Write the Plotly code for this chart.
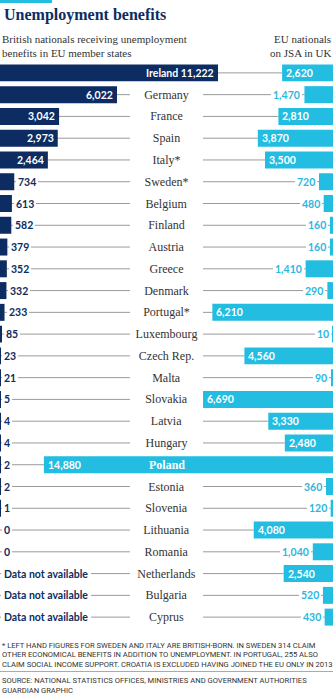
import plotly.graph_objects as go

countries = ["Ireland", "Germany", "France", "Spain", "Italy*", "Sweden*", "Belgium",
             "Finland", "Austria", "Greece", "Denmark", "Portugal*", "Luxembourg",
             "Czech Rep.", "Malta", "Slovakia", "Latvia", "Hungary", "Poland", "Estonia",
             "Slovenia", "Lithuania", "Romania", "Netherlands", "Bulgaria", "Cyprus"]
british_abroad = [11222, 6022, 3042, 2973, 2464, 734, 613, 582, 379, 352, 332, 233, 85,
                  23, 21, 5, 4, 4, 2, 2, 1, 0, 0, None, None, None]
eu_in_uk = [2620, 1470, 2810, 3870, 3500, 720, 480, 160, 160, 1410, 290, 6210, 10,
            4560, 90, 6690, 3330, 2480, 14880, 360, 120, 4080, 1040, 2540, 520, 430]

title = "Unemployment benefits"
left_sub = ["British nationals receiving unemployment", "benefits in EU member states"]
right_sub = ["EU nationals", "on JSA in UK"]
notes = ["* LEFT HAND FIGURES FOR SWEDEN AND ITALY ARE BRITISH-BORN. IN SWEDEN 314 CLAIM",
         "OTHER ECONOMICAL BENEFITS IN ADDITION TO UNEMPLOYMENT. IN PORTUGAL, 255 ALSO",
         "CLAIM SOCIAL INCOME SUPPORT. CROATIA IS EXCLUDED HAVING JOINED THE EU ONLY IN 2013"]
source = ["SOURCE: NATIONAL STATISTICS OFFICES, MINISTRIES AND GOVERNMENT AUTHORITIES",
          "GUARDIAN GRAPHIC"]

W, H = 333, 700
MT, MB = 62, 72
PH = H - MT - MB
R = 17140  # full width of the plot in data units (shared scale)

NAVY = "#0c2c62"
CYAN = "#22bde0"
CYAN_TXT = "#2bb8e0"
GREY = "#9a9a9a"
DARK = "#333333"
NUM_FONT = "Lato"
NUM_SIZE = 10.5
SERIF = "Liberation Serif"
NOTE_FONT = "Roboto"

def px2x(p):
    return p / W * R

def ypaper(ypx):
    return (H - MB - ypx) / PH

def fmt(v):
    return f"{v:,}"

fig = go.Figure()
fig.add_bar(y=countries, x=[v if v is not None else 0 for v in british_abroad],
            orientation="h", marker=dict(color=NAVY, line=dict(width=0)),
            hoverinfo="skip", showlegend=False)
fig.add_bar(y=countries, x=eu_in_uk, base=[R - v for v in eu_in_uk],
            orientation="h", marker=dict(color=CYAN, line=dict(width=0)),
            hoverinfo="skip", showlegend=False)

shapes = []
ann = []
for c, lv, rv in zip(countries, british_abroad, eu_in_uk):
    lval = lv if lv is not None else 0
    shapes.append(dict(type="line", xref="x", yref="y", x0=lval, x1=R - rv, y0=c, y1=c,
                       line=dict(color=GREY, width=1), layer="below"))
    name_in_left = lval > px2x(130)
    name_in_right = (R - rv) < px2x(130)
    # left label
    if lv is None:
        ann.append(dict(x=0, y=c, xref="x", yref="y", text="Data not available",
                        xanchor="left", xshift=1, showarrow=False, bgcolor="white",
                        borderpad=3, borderwidth=0,
                        font=dict(family=NUM_FONT, size=NUM_SIZE, color=NAVY, weight="bold")))
    elif lv >= 2000:
        txt = (c + " " if name_in_left else "") + fmt(lv)
        ann.append(dict(x=lv, y=c, xref="x", yref="y", text=txt, xanchor="right",
                        xshift=-3, showarrow=False, borderpad=1, borderwidth=0,
                        font=dict(family=NUM_FONT, size=NUM_SIZE, color="white", weight="bold")))
    else:
        ann.append(dict(x=lv, y=c, xref="x", yref="y", text=fmt(lv), xanchor="left",
                        xshift=2, showarrow=False, bgcolor="white", borderpad=2,
                        borderwidth=0,
                        font=dict(family=NUM_FONT, size=NUM_SIZE, color=NAVY, weight="bold")))
    # right label
    if rv >= 2000:
        ann.append(dict(x=R - rv, y=c, xref="x", yref="y", text=fmt(rv), xanchor="left",
                        xshift=3, showarrow=False, borderpad=1, borderwidth=0,
                        font=dict(family=NUM_FONT, size=NUM_SIZE, color="white", weight="bold")))
    else:
        ann.append(dict(x=R - rv, y=c, xref="x", yref="y", text=fmt(rv), xanchor="right",
                        xshift=-2, showarrow=False, bgcolor="white", borderpad=2,
                        borderwidth=0,
                        font=dict(family=NUM_FONT, size=NUM_SIZE, color=CYAN_TXT, weight="bold")))
    # centre country name
    if name_in_left:
        pass
    elif name_in_right:
        ann.append(dict(x=R / 2, y=c, xref="x", yref="y", text=c, xanchor="center",
                        showarrow=False, borderwidth=0,
                        font=dict(family=SERIF, size=12, color="white", weight="bold")))
    else:
        ann.append(dict(x=R / 2, y=c, xref="x", yref="y", text=c, xanchor="center",
                        showarrow=False, bgcolor="white", width=73, borderpad=0,
                        borderwidth=0,
                        font=dict(family=SERIF, size=12, color=DARK)))

# header
ann.append(dict(x=2 / W, y=ypaper(15), xref="paper", yref="paper", text=title,
                xanchor="left", yanchor="middle", showarrow=False,
                font=dict(family=SERIF, size=16, color=NAVY, weight="bold")))
for i, t in enumerate(left_sub):
    ann.append(dict(x=1 / W, y=ypaper(39 + 13.5 * i), xref="paper", yref="paper", text=t,
                    xanchor="left", yanchor="middle", showarrow=False, borderpad=0,
                    font=dict(family=SERIF, size=11, color=DARK)))
for i, t in enumerate(right_sub):
    ann.append(dict(x=1, y=ypaper(39 + 13.5 * i), xref="paper", yref="paper", text=t,
                    xanchor="right", xshift=-1, yanchor="middle", showarrow=False,
                    borderpad=0, font=dict(family=SERIF, size=11, color=DARK)))
for i, t in enumerate(notes):
    ann.append(dict(x=1 / W, y=ypaper(645 + 9.7 * i), xref="paper", yref="paper", text=t,
                    xanchor="left", yanchor="middle", showarrow=False, borderpad=0,
                    font=dict(family=NOTE_FONT, size=7.6, color=DARK)))
for i, t in enumerate(source):
    ann.append(dict(x=1 / W, y=ypaper(680 + 10.5 * i), xref="paper", yref="paper", text=t,
                    xanchor="left", yanchor="middle", showarrow=False, borderpad=0,
                    font=dict(family=NOTE_FONT, size=7.6, color=DARK)))

shapes.append(dict(type="rect", xref="paper", yref="paper", x0=0, x1=52 / W,
                   y0=ypaper(3), y1=ypaper(0), fillcolor=CYAN, line=dict(width=0)))
shapes.append(dict(type="line", xref="paper", yref="paper", x0=0, x1=1,
                   y0=ypaper(671.5), y1=ypaper(671.5), line=dict(color="#aaaaaa", width=1)))

fig.update_layout(
    width=W, height=H,
    margin=dict(l=0, r=0, t=MT, b=MB, pad=0),
    paper_bgcolor="white", plot_bgcolor="white",
    barmode="overlay", bargap=0.22,
    xaxis=dict(range=[0, R], visible=False, fixedrange=True),
    yaxis=dict(type="category", categoryorder="array", categoryarray=countries,
               autorange="reversed", visible=False, fixedrange=True),
    shapes=shapes, annotations=ann, showlegend=False,
)
fig.write_html("out.html", config={"displayModeBar": False})
